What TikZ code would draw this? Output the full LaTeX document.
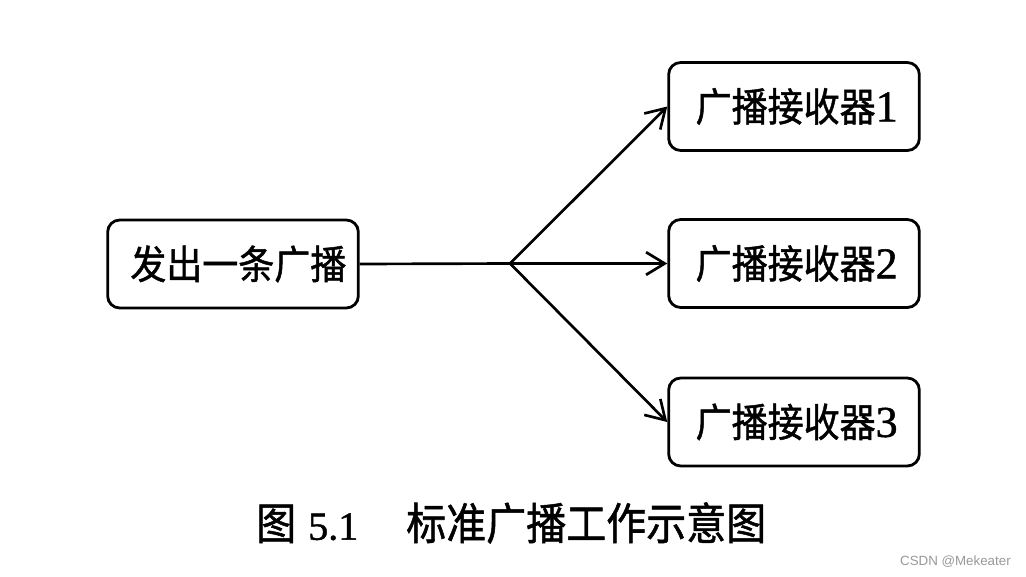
\documentclass[tikz,border=0pt]{standalone}
\usepackage{fontspec}
\setmainfont{Liberation Serif}[FakeBold=1.2]
\newfontfamily\cjk{Noto Sans CJK SC}[FakeBold=1.2]
\newfontfamily\wm{Liberation Sans}
\usetikzlibrary{arrows.meta}
\newcommand{\tallcjk}[1]{\scalebox{1}[1.1]{\cjk #1}}
\newcommand{\dg}[1]{{\fontsize{33pt}{36pt}\selectfont #1}}
\tikzset{
  boxnode/.style={draw=black, line width=2.1pt, rounded corners=9pt, inner sep=0pt,
    minimum width=188pt, minimum height=66pt, font=\fontsize{27pt}{30pt}\selectfont},
  conn/.style={line width=2pt, draw=black},
  arr/.style={conn, -{Straight Barb[length=14pt,width=17pt,line width=2pt]}},
}
\begin{document}
\begin{tikzpicture}[x=0.75pt,y=-0.75pt]
\useasboundingbox (0,0) rectangle (1026,576);
\fill[white] (0,0) rectangle (1026,576);
\node[boxnode] (src) at (233,264) {\hspace{8pt}\tallcjk{发出一条广播}};
\node[boxnode] (r1) at (794,106.5) {\hspace{4pt}\tallcjk{广播接收器}\dg{1}};
\node[boxnode] (r2) at (794,263.5) {\hspace{4pt}\tallcjk{广播接收器}\dg{2}};
\node[boxnode] (r3) at (794,422) {\hspace{4pt}\tallcjk{广播接收器}\dg{3}};
\coordinate (b) at (510,263.5);
\draw[conn] (src.east) -- (b);
\draw[arr] (b) -- (r1.west);
\draw[arr] (b) -- (r2.west);
\draw[arr] (b) -- (r3.west);
\node[anchor=west, inner sep=0pt, font=\fontsize{30pt}{34pt}\selectfont] (cap) at (256,523)
  {\tallcjk{图}\hspace{9pt}5.1\hspace{36pt}\tallcjk{标准广播工作示意图}};
\node[anchor=east, inner sep=0pt, text=black!40, font=\wm\fontsize{10pt}{12pt}\selectfont] (wmk) at (1011,562) {CSDN @Mekeater};
\end{tikzpicture}
\end{document}
